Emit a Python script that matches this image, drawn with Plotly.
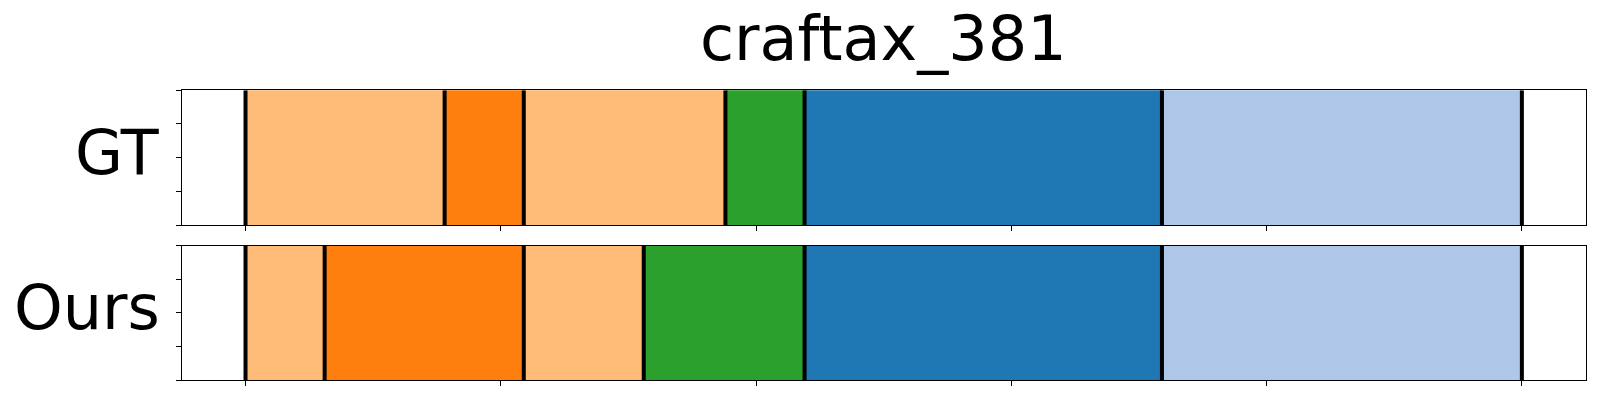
import plotly.graph_objects as go

title = "craftax_381"
row_labels = ["GT", "Ours"]

# segment boundaries (time steps) and segment class per row
gt_bounds = [0, 78, 109, 188, 219, 359, 500]
gt_classes = [1, 0, 1, 2, 3, 4]
ours_bounds = [0, 31, 109, 156, 219, 359, 500]
ours_classes = [1, 0, 1, 2, 3, 4]

class_colors = ["#ff7f0e", "#ffbb78", "#2ca02c", "#1f77b4", "#aec7e8"]

x_ticks = [0, 100, 200, 300, 400, 500]
y_ticks = [0, 0.25, 0.5, 0.75, 1.0]

# page body has an 8px margin; figure is sized to fit inside the window
OFF = 8
W, H = 1584, 384
x_left, x_right = 181.7 - OFF, 1585.7 - OFF
panels = [(90.3 - OFF, 225.0 - OFF), (245.7 - OFF, 380.0 - OFF)]
FS = 62

fig = go.Figure()
rows = [(gt_bounds, gt_classes), (ours_bounds, ours_classes)]
for i, (bounds, classes) in enumerate(rows):
    xa = "x" if i == 0 else "x2"
    ya = "y" if i == 0 else "y2"
    for s, e, c in zip(bounds[:-1], bounds[1:], classes):
        fig.add_trace(go.Bar(
            x=[e - s], base=[s], y=[0.5], width=[1.0], orientation="h",
            marker=dict(color=class_colors[c], line=dict(width=0)),
            xaxis=xa, yaxis=ya, showlegend=False, hoverinfo="skip"))
    for b in bounds:
        fig.add_trace(go.Scatter(
            x=[b, b], y=[0, 1], mode="lines",
            line=dict(color="black", width=4),
            xaxis=xa, yaxis=ya, showlegend=False, hoverinfo="skip"))

axis_common = dict(
    showline=True, linecolor="black", linewidth=1, mirror=True,
    ticks="outside", ticklen=5, tickwidth=1, tickcolor="black",
    showticklabels=False, showgrid=False, zeroline=False, fixedrange=True)

xdom = [x_left / W, x_right / W]
fig.update_layout(
    width=W, height=H,
    margin=dict(l=0, r=0, t=0, b=0),
    paper_bgcolor="white", plot_bgcolor="white",
    barmode="overlay", bargap=0,
    showlegend=False,
    xaxis=dict(domain=xdom, range=[-25, 525], tickvals=x_ticks, anchor="y", **axis_common),
    xaxis2=dict(domain=xdom, range=[-25, 525], tickvals=x_ticks, anchor="y2", **axis_common),
    yaxis=dict(domain=[(H - panels[0][1]) / H, (H - panels[0][0]) / H], range=[0, 1],
               tickvals=y_ticks, anchor="x", **axis_common),
    yaxis2=dict(domain=[(H - panels[1][1]) / H, (H - panels[1][0]) / H], range=[0, 1],
                tickvals=y_ticks, anchor="x2", **axis_common),
    font=dict(family="DejaVu Sans", color="black"),
)

fig.add_annotation(text=title, x=(x_left + x_right) / 2 / W, y=(H - (39 - OFF)) / H,
                   xref="paper", yref="paper", xanchor="center", yanchor="middle",
                   showarrow=False, font=dict(size=FS, family="DejaVu Sans", color="black"))
label_y = [152 - OFF, 307 - OFF]
for lab, ly in zip(row_labels, label_y):
    fig.add_annotation(text=lab, x=(162 - OFF) / W, y=(H - ly) / H,
                       xref="paper", yref="paper", xanchor="right", yanchor="middle",
                       showarrow=False, font=dict(size=FS, family="DejaVu Sans", color="black"))

fig.write_html("out.html")
